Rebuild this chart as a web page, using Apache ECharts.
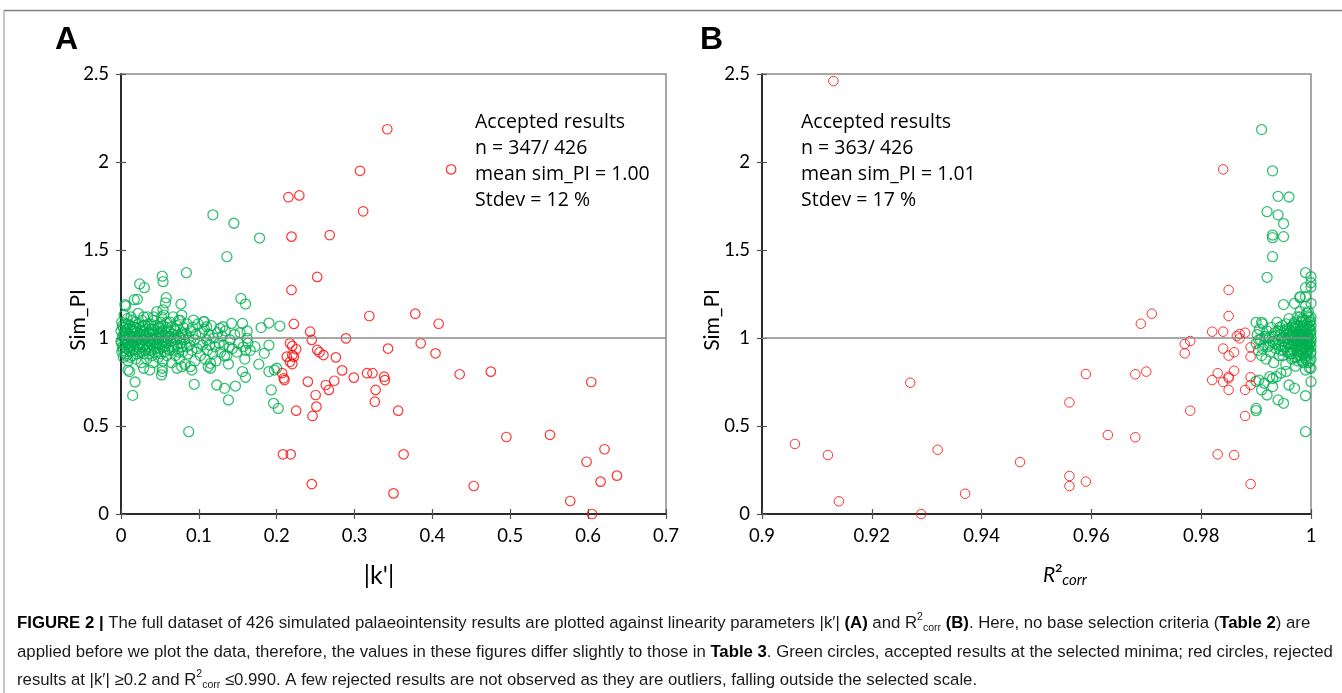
<!DOCTYPE html>
<html><head><meta charset="utf-8">
<script src="https://cdn.jsdelivr.net/npm/echarts@6/dist/echarts.min.js"></script>
<style>html,body{margin:0;padding:0;background:#fff;}#c{width:1342px;height:693px;}</style>
</head><body><div id="c"></div>
<script>
// ---------- DATA ----------
const xTicksA = {min: 0, max: 0.7, interval: 0.1};
const xTicksB = {min: 0.9, max: 1, interval: 0.02};
const yTicks = {min: 0, max: 2.5, interval: 0.5};

// Panel A: |k'| vs Sim_PI, rejected (red)
const redA = [[0.342,2.186],[0.307,1.95],[0.424,1.958],[0.215,1.80],[0.229,1.81],[0.311,1.72],[0.219,1.576],[0.268,1.585],[0.252,1.347],[0.219,1.273],[0.319,1.125],[0.378,1.138],[0.408,1.081],[0.222,1.08],[0.243,1.036],[0.289,0.998],[0.245,0.989],[0.343,0.94],[0.385,0.97],[0.404,0.913],[0.217,0.97],[0.220,0.955],[0.213,0.894],[0.220,0.903],[0.222,0.894],[0.225,0.936],[0.220,0.852],[0.217,0.865],[0.252,0.932],[0.255,0.919],[0.260,0.903],[0.276,0.89],[0.284,0.816],[0.299,0.775],[0.316,0.80],[0.323,0.80],[0.338,0.78],[0.339,0.761],[0.435,0.794],[0.475,0.809],[0.604,0.75],[0.207,0.80],[0.209,0.771],[0.210,0.761],[0.240,0.752],[0.274,0.757],[0.263,0.733],[0.267,0.705],[0.327,0.705],[0.326,0.638],[0.250,0.676],[0.251,0.61],[0.246,0.557],[0.225,0.587],[0.356,0.587],[0.495,0.4375],[0.551,0.45],[0.208,0.339],[0.218,0.339],[0.363,0.339],[0.621,0.368],[0.598,0.297],[0.637,0.218],[0.616,0.184],[0.245,0.17],[0.453,0.159],[0.350,0.117],[0.577,0.074],[0.605,0.0]];

// Panel A: accepted (green) — scattered points
const greenAOuter = [[0.118,1.70],[0.145,1.652],[0.178,1.568],[0.136,1.462],[0.084,1.371],[0.053,1.351],[0.054,1.32],[0.024,1.307],[0.030,1.286],[0.154,1.225],[0.160,1.193],[0.058,1.229],[0.057,1.20],[0.017,1.218],[0.021,1.22],[0.077,1.193],[0.006,1.182],[0.005,1.19],[0.052,1.12],[0.054,1.16],[0.042,1.12],[0.029,1.12],[0.078,1.13],[0.074,1.10],[0.106,1.093],[0.110,1.064],[0.180,1.059],[0.190,1.085],[0.204,1.068],[0.190,0.959],[0.184,0.913],[0.177,0.851],[0.190,0.809],[0.197,0.818],[0.200,0.828],[0.193,0.705],[0.196,0.629],[0.202,0.60],[0.138,0.648],[0.147,0.727],[0.133,0.714],[0.123,0.733],[0.094,0.737],[0.015,0.674],[0.018,0.75],[0.011,0.809],[0.009,0.818],[0.087,0.468],[0.156,0.809],[0.160,0.777],[0.138,0.852],[0.133,0.898],[0.139,0.947],[0.160,0.93],[0.163,0.97],[0.162,0.998],[0.156,1.083],[0.142,1.083],[0.172,0.951],[0.037,0.818],[0.029,0.828],[0.053,0.809],[0.052,0.79],[0.053,0.828],[0.072,0.828],[0.078,0.837],[0.089,0.837],[0.091,0.818],[0.115,0.828],[0.112,0.837],[0.115,0.856],[0.127,1.055],[0.131,1.064],[0.107,1.093],[0.093,1.102]];

// Panel A: accepted (green) — dense cluster
const greenACore = [[0.000,0.98],[0.000,1.04],[0.001,0.92],[0.001,1.09],[0.002,1.01],[0.002,0.95],[0.003,1.06],[0.003,0.89],[0.004,1.00],[0.004,1.13],[0.005,0.96],[0.005,1.03],[0.006,0.91],[0.006,1.08],[0.007,0.99],[0.007,0.94],[0.008,1.05],[0.008,1.11],[0.009,0.97],[0.009,0.87],[0.010,1.02],[0.011,0.93],[0.011,1.07],[0.012,1.00],[0.013,0.96],[0.013,1.12],[0.014,1.04],[0.015,0.90],[0.015,0.98],[0.016,1.06],[0.017,0.94],[0.017,1.01],[0.018,1.09],[0.019,0.88],[0.019,0.99],[0.020,1.03],[0.021,0.95],[0.022,1.14],[0.022,1.00],[0.023,0.92],[0.024,1.06],[0.025,0.97],[0.025,1.02],[0.026,0.86],[0.027,1.10],[0.028,0.95],[0.028,1.04],[0.029,0.99],[0.030,0.91],[0.031,1.07],[0.032,1.01],[0.033,0.94],[0.033,0.88],[0.034,1.12],[0.035,0.98],[0.036,1.03],[0.037,0.93],[0.038,1.08],[0.039,1.00],[0.040,0.96],[0.041,0.86],[0.041,1.05],[0.042,1.10],[0.043,0.99],[0.044,0.92],[0.045,1.02],[0.046,1.15],[0.047,0.97],[0.048,0.89],[0.048,1.06],[0.049,1.00],[0.050,0.94],[0.051,1.09],[0.052,1.03],[0.053,0.98],[0.054,0.87],[0.055,1.13],[0.056,1.01],[0.057,0.95],[0.058,1.06],[0.059,0.90],[0.060,1.00],[0.061,1.04],[0.062,0.93],[0.063,1.09],[0.064,0.98],[0.065,0.86],[0.066,1.02],[0.067,1.12],[0.068,0.95],[0.069,1.05],[0.070,0.90],[0.071,0.99],[0.072,1.07],[0.073,0.94],[0.074,1.01],[0.075,0.88],[0.076,1.10],[0.077,0.97],[0.078,1.03],[0.079,0.92],[0.080,1.06],[0.081,0.99],[0.082,0.85],[0.083,1.02],[0.084,0.95],[0.085,1.08],[0.086,0.91],[0.087,1.00],[0.088,0.96],[0.089,1.04],[0.091,0.93],[0.092,1.06],[0.094,0.99],[0.095,0.87],[0.096,1.02],[0.098,0.94],[0.099,1.08],[0.101,0.97],[0.102,0.90],[0.104,1.03],[0.105,0.96],[0.107,1.05],[0.108,0.88],[0.110,0.99],[0.111,0.93],[0.113,1.02],[0.114,0.96],[0.116,1.07],[0.118,0.91],[0.119,1.00],[0.121,0.95],[0.122,0.87],[0.124,1.03],[0.126,0.97],[0.128,0.92],[0.130,1.01],[0.132,0.96],[0.134,1.04],[0.136,0.90],[0.140,0.99],[0.143,0.94],[0.146,1.02],[0.149,0.92],[0.151,0.97],[0.153,1.03],[0.157,0.95],[0.159,0.88],[0.162,1.04],[0.166,0.93],
  [0.001,0.97],[0.002,1.07],[0.003,0.93],[0.004,1.02],[0.005,0.99],[0.006,1.04],[0.007,0.90],[0.008,0.97],[0.009,1.08],[0.010,0.95],[0.011,1.01],[0.012,0.89],[0.013,1.05],[0.014,0.97],[0.015,1.10],[0.016,0.93],[0.017,1.04],[0.018,0.98],[0.019,1.06],[0.020,0.91],[0.021,1.00],[0.022,0.96],[0.023,1.08],[0.024,0.94],[0.025,1.04],[0.026,0.99],[0.027,0.92],[0.028,1.07],[0.029,1.02],[0.030,0.96],[0.031,0.93],[0.032,1.05],[0.033,1.00],[0.034,0.95],[0.035,1.08],[0.036,0.91],[0.037,1.02],[0.038,0.97],[0.039,1.05],[0.040,0.90],[0.041,0.99],[0.042,1.03],[0.043,0.94],[0.044,1.07],[0.045,0.97],[0.046,1.00],[0.047,0.92],[0.048,1.03],[0.049,0.96],[0.050,1.06],[0.051,0.91],[0.052,1.00],[0.053,0.95],[0.054,1.07],[0.055,0.98],[0.056,0.92],[0.057,1.03],[0.058,0.97],[0.059,1.09],[0.060,0.94],[0.062,1.01],[0.064,1.06],[0.066,0.93],[0.068,1.00],[0.070,1.04],[0.072,0.96],[0.074,0.92],[0.076,1.00],[0.078,0.95],[0.080,1.02]];

// Panel B: R2corr vs Sim_PI, rejected (red)
const redB = [[0.913,2.46],[0.984,1.958],[0.985,1.273],[0.985,1.125],[0.971,1.138],[0.969,1.081],[0.982,1.036],[0.984,1.036],[0.9865,1.011],[0.987,1.023],[0.988,1.03],[0.987,0.998],[0.978,0.983],[0.977,0.966],[0.977,0.913],[0.984,0.94],[0.985,0.90],[0.986,0.919],[0.989,0.947],[0.989,0.894],[0.959,0.795],[0.968,0.794],[0.970,0.809],[0.983,0.80],[0.982,0.761],[0.984,0.75],[0.985,0.78],[0.985,0.771],[0.986,0.814],[0.985,0.705],[0.988,0.705],[0.989,0.733],[0.989,0.777],[0.927,0.746],[0.956,0.634],[0.978,0.587],[0.988,0.557],[0.963,0.449],[0.968,0.436],[0.906,0.398],[0.912,0.335],[0.932,0.365],[0.983,0.339],[0.986,0.335],[0.947,0.295],[0.956,0.216],[0.956,0.159],[0.959,0.184],[0.989,0.17],[0.937,0.115],[0.914,0.072],[0.929,0.0]];

// Panel B: accepted (green) — scattered points
const greenBOuter = [[0.991,2.184],[0.993,1.95],[0.994,1.805],[0.996,1.801],[0.992,1.718],[0.994,1.70],[0.995,1.65],[0.993,1.585],[0.993,1.57],[0.995,1.576],[0.993,1.462],[0.992,1.345],[0.999,1.371],[1.0,1.348],[1.0,1.314],[0.999,1.286],[1.0,1.29],[0.998,1.229],[0.997,1.197],[0.995,1.19],[0.998,1.235],[0.999,1.235],[0.998,1.15],[0.999,1.18],[1.0,1.197],[0.990,1.089],[0.991,1.089],[0.990,0.754],[0.991,0.705],[0.992,0.676],[0.990,0.60],[0.990,0.587],[0.994,0.648],[0.995,0.629],[0.996,0.733],[0.997,0.714],[0.999,0.672],[0.999,0.468],[0.993,0.724],[0.993,0.77],[0.9945,0.80],[0.9955,0.81],[0.9925,0.78],[0.9937,0.78],[0.9905,0.761],[0.9915,0.743],[1.0,0.752],[0.999,0.818],[1.0,0.828]];

// Panel B: accepted (green) — dense cluster
const greenBCore = [[0.9900,0.97],[0.9902,1.02],[0.9904,0.93],[0.9906,1.05],[0.9908,0.99],[0.9910,0.90],[0.9912,1.08],[0.9914,0.96],[0.9916,1.01],[0.9918,0.88],[0.9920,1.04],[0.9922,0.95],[0.9924,1.00],[0.9926,0.92],[0.9928,1.06],[0.9930,0.98],[0.9932,0.86],[0.9934,1.03],[0.9936,0.94],[0.9938,1.09],[0.9940,0.99],[0.9942,0.90],[0.9944,1.02],[0.9946,0.96],[0.9948,1.07],[0.9950,0.93],[0.9952,1.00],[0.9954,0.85],[0.9956,1.04],[0.9958,0.97],[0.9960,1.11],[0.9961,0.91],[0.9962,1.01],[0.9963,0.95],[0.9964,1.06],[0.9965,0.88],[0.9966,0.99],[0.9967,1.03],[0.9968,0.93],[0.9969,1.08],[0.9970,0.97],[0.9971,1.01],[0.9972,0.84],[0.9973,1.05],[0.9974,0.95],[0.9975,1.12],[0.9976,0.99],[0.9977,0.90],[0.9978,1.03],[0.9979,0.96],[0.9980,1.07],[0.9981,0.92],[0.9982,1.00],[0.9983,0.87],[0.9984,1.04],[0.9985,0.97],[0.9986,1.10],[0.9987,0.94],[0.9988,1.02],[0.9989,0.89],[0.9990,1.06],[0.9991,0.98],[0.9992,1.14],[0.9993,0.93],[0.9994,1.01],[0.9995,0.86],[0.9996,1.05],[0.9997,0.96],[0.9998,1.09],[0.9999,0.91],[1.0000,1.00],[1.0000,0.95],[1.0000,1.07],[1.0000,0.88],[1.0000,1.12],[0.9998,1.03],[0.9997,0.83],[0.9995,1.15],[0.9993,0.98],[0.9990,0.94],[0.9987,1.05],[0.9985,0.91],[0.9982,1.09],[0.9980,0.98],[0.9977,1.02],[0.9974,0.89],[0.9971,1.06],[0.9968,0.97],[0.9965,1.02],[0.9962,0.92],[0.9958,1.00],[0.9954,1.05],[0.9950,0.98],[0.9945,0.93],[0.9940,1.04],[0.9935,0.97],[0.9930,1.01],[0.9925,0.96],[0.9918,1.00],[0.9912,0.94],[0.9905,0.99],
  [0.9941,0.96],[0.9943,1.06],[0.9947,1.00],[0.9949,0.90],[0.9951,1.04],[0.9953,0.95],[0.9955,1.08],[0.9957,0.92],[0.9959,1.02],[0.9961,0.97],[0.9963,1.04],[0.9964,0.91],[0.9966,1.07],[0.9967,0.96],[0.9969,1.00],[0.9970,0.89],[0.9972,1.05],[0.9973,0.98],[0.9975,0.93],[0.9976,1.07],[0.9978,0.95],[0.9979,1.01],[0.9980,0.90],[0.9981,1.04],[0.9983,0.97],[0.9984,1.11],[0.9985,0.93],[0.9986,1.00],[0.9987,1.07],[0.9988,0.95],[0.9989,1.02],[0.9990,0.88],[0.9991,1.04],[0.9992,0.96],[0.9993,1.08],[0.9994,0.92],[0.9995,1.00],[0.9996,0.94],[0.9997,1.06],[0.9998,0.97],[0.9999,1.02],[1.0000,0.92],[1.0000,1.04],[1.0000,0.98],[0.9999,1.10],[0.9998,0.87],[0.9996,1.12],[0.9994,0.97],[0.9992,0.90],[0.9990,1.10],[0.9988,0.99],[0.9986,0.86],[0.9984,1.01],[0.9982,0.94],[0.9980,1.12],[0.9978,0.99],[0.9976,0.87],[0.9974,1.02],[0.9972,0.98],[0.9970,1.09]];

const refLineValue = 1;

// Texts
const annA = ['Accepted results', 'n = 347/ 426', 'mean sim_PI = 1.00', 'Stdev = 12 %'];
const annB = ['Accepted results', 'n = 363/ 426', 'mean sim_PI = 1.01', 'Stdev = 17 %'];
const captionLines = [
  '{b|FIGURE 2 |} The full dataset of 426 simulated palaeointensity results are plotted against linearity parameters |k\u2032| {b|(A)} and R{sup|2}{sub|corr} {b|(B)}. Here, no base selection criteria ({b|Table 2}) are',
  'applied before we plot the data, therefore, the values in these figures differ slightly to those in {b|Table 3}. Green circles, accepted results at the selected minima; red circles, rejected',
  'results at |k\u2032| \u22650.2 and R{sup|2}{sub|corr} \u22640.990. A few rejected results are not observed as they are outliers, falling outside the selected scale.'
];

// ---------- CHART ----------
const GREEN = '#00b050', RED = '#ff0000';
const tickFont = {fontFamily: 'Lato', fontSize: 18.5, color: '#000'};

function mkX(gi, t, primary) {
  return {type: 'value', gridIndex: gi, min: t.min, max: t.max, interval: t.interval, position: 'bottom',
    splitLine: {show: false},
    axisLine: {show: primary, onZero: false, lineStyle: {color: '#000', width: 1.5}},
    axisTick: {show: true, inside: !primary, length: 5, lineStyle: {color: '#555', width: 1.2}},
    axisLabel: Object.assign({show: primary, margin: 13}, tickFont)};
}
function mkY(gi, t, primary) {
  return {type: 'value', gridIndex: gi, min: t.min, max: t.max, interval: t.interval, position: 'left',
    splitLine: {show: false},
    axisLine: {show: primary, onZero: false, lineStyle: {color: '#000', width: 1.5}},
    axisTick: {show: true, inside: !primary, length: 5, lineStyle: {color: '#555', width: 1.2}},
    axisLabel: Object.assign({show: primary, margin: 12}, tickFont)};
}
function sc(xi, data, color, size, bw, withLine) {
  const s = {type: 'scatter', xAxisIndex: xi, yAxisIndex: xi, data: data, symbol: 'circle', symbolSize: size,
    clip: false, silent: true,
    itemStyle: {color: 'rgba(0,0,0,0)', borderColor: color, borderWidth: bw}};
  if (withLine) s.markLine = {silent: true, symbol: ['none', 'none'], label: {show: false},
    lineStyle: {color: '#8c8c8c', width: 1.5, type: 'solid'}, data: [{yAxis: refLineValue}]};
  return s;
}

const chart = echarts.init(document.getElementById('c'), null, {renderer: 'canvas'});
const labelFont = 'Lato';
const capFont = '"Liberation Sans", sans-serif';
const capSize = 16.75;
chart.setOption({
  animation: false,
  backgroundColor: '#fff',
  grid: [
    {left: 121, top: 74, width: 545, height: 440, show: true, borderColor: '#8c8c8c', borderWidth: 1.5},
    {left: 762, top: 74, width: 549, height: 440, show: true, borderColor: '#8c8c8c', borderWidth: 1.5}
  ],
  xAxis: [mkX(0, xTicksA, true), mkX(0, xTicksA, false), mkX(1, xTicksB, true), mkX(1, xTicksB, false)],
  yAxis: [mkY(0, yTicks, true), mkY(0, yTicks, false), mkY(1, yTicks, true), mkY(1, yTicks, false)],
  series: [
    sc(0, greenACore, GREEN, 10, 1.3, true),
    sc(0, greenAOuter, GREEN, 10, 1.3, false),
    sc(0, redA, RED, 9.5, 1.2, false),
    sc(2, greenBCore, GREEN, 10, 1.3, true),
    sc(2, greenBOuter, GREEN, 10, 1.3, false),
    sc(2, redB, RED, 9.5, 1.0, false)
  ],
  graphic: [
    {type: 'line', shape: {x1: 4, y1: 10.5, x2: 1342, y2: 10.5}, style: {stroke: '#808080', lineWidth: 1.5}},
    {type: 'line', shape: {x1: 4, y1: 10.5, x2: 4, y2: 693}, style: {stroke: '#a0a0a0', lineWidth: 1.2}},
    {type: 'text', left: 55, top: 24, style: {text: 'A', font: 'bold 32px "Liberation Sans Narrow", "Liberation Sans", sans-serif', fill: '#000'}},
    {type: 'text', left: 700, top: 24, style: {text: 'B', font: 'bold 32px "Liberation Sans Narrow", "Liberation Sans", sans-serif', fill: '#000'}},
    {type: 'text', left: 475, top: 109, style: {text: annA.join('\n'), font: '19.5px "Open Sans"', lineHeight: 26, fill: '#000'}},
    {type: 'text', left: 801, top: 109, style: {text: annB.join('\n'), font: '19.5px "Open Sans"', lineHeight: 26, fill: '#000'}},
    {type: 'text', x: 78, y: 320, rotation: Math.PI / 2, style: {text: 'Sim_PI', font: '21px ' + labelFont, fill: '#000', align: 'center', verticalAlign: 'middle'}},
    {type: 'text', x: 712, y: 320, rotation: Math.PI / 2, style: {text: 'Sim_PI', font: '21px ' + labelFont, fill: '#000', align: 'center', verticalAlign: 'middle'}},
    {type: 'text', x: 379, y: 576, style: {text: '|k\'|', font: '25px ' + labelFont, fill: '#000', align: 'center', verticalAlign: 'middle'}},
    {type: 'text', x: 1065, y: 575, style: {text: '{r|R}{s|2}{c|corr}', align: 'center', verticalAlign: 'middle',
      rich: {r: {fontFamily: labelFont, fontStyle: 'italic', fontSize: 21, lineHeight: 26, verticalAlign: 'middle', fill: '#000'},
             s: {fontFamily: labelFont, fontWeight: 'bold', fontSize: 12, lineHeight: 26, verticalAlign: 'top', fill: '#000'},
             c: {fontFamily: labelFont, fontStyle: 'italic', fontSize: 15, lineHeight: 26, verticalAlign: 'bottom', fill: '#000'}}}}
  ].concat(captionLines.map((t, i) => ({
    type: 'text', left: 17, top: [612, 641, 669][i],
    style: {text: t, fontFamily: capFont, fontSize: capSize, lineHeight: 22, fill: '#1a1a1a',
      rich: {
        b: {fontFamily: capFont, fontWeight: 'bold', fontSize: capSize, lineHeight: 22, fill: '#000'},
        sup: {fontFamily: capFont, fontSize: 10.5, lineHeight: 22, verticalAlign: 'top', fill: '#1a1a1a'},
        sub: {fontFamily: capFont, fontSize: 10.5, lineHeight: 22, verticalAlign: 'bottom', fill: '#1a1a1a'}
      }}
  })))
});
</script>
</body></html>
